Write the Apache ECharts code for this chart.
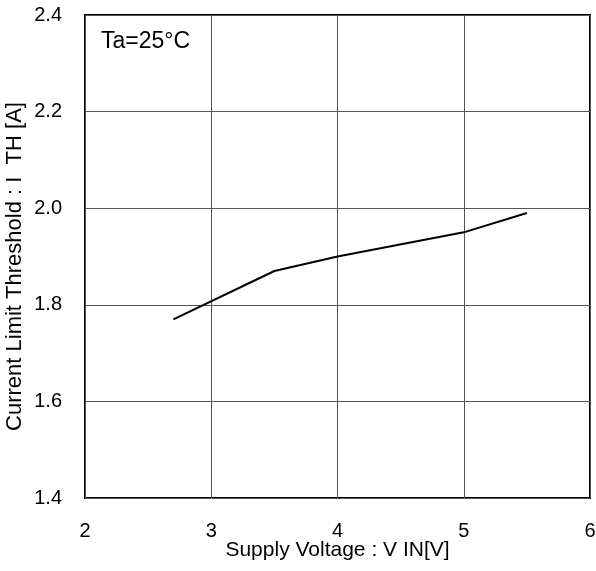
<!DOCTYPE html>
<html>
<head>
<meta charset="utf-8">
<script src="https://cdn.jsdelivr.net/npm/echarts@6/dist/echarts.min.js"></script>
<style>
  html, body { margin: 0; padding: 0; background: #fff; }
  #chart { width: 596px; height: 571px; }
</style>
</head>
<body>
<div id="chart"></div>
<script>
// supply voltage (V) and current limit threshold (A)
const vin = [2.7, 3.5, 4.0, 5.0, 5.5]
const ith = [1.77, 1.87, 1.90, 1.95, 1.99]

const xTicks = { min: 2, max: 6, interval: 1 }
const yTicks = { min: 1.4, max: 2.4, interval: 0.2 }

const font = 'Liberation Sans, Arial, sans-serif'

const chart = echarts.init(document.getElementById('chart'))

chart.setOption({
  animation: false,
  grid: {
    left: 85,
    right: 6,
    top: 15,
    bottom: 73,
    outerBoundsMode: 'none',
    containLabel: false,
    show: true,
    borderColor: '#000',
    borderWidth: 2
  },
  graphic: [
    {
      type: 'text',
      left: 101,
      top: 30,
      style: { text: 'Ta=25°C', font: '23px ' + font, fill: '#000' }
    }
  ],
  xAxis: {
    type: 'value',
    min: xTicks.min,
    max: xTicks.max,
    interval: xTicks.interval,
    name: 'Supply Voltage : V IN[V]',
    nameLocation: 'middle',
    nameGap: 42,
    nameMoveOverlap: false,
    nameTextStyle: { fontFamily: font, fontSize: 21, color: '#000' },
    axisLine: { show: false },
    axisTick: { show: false },
    axisLabel: { fontFamily: font, fontSize: 20, color: '#000', margin: 23 },
    splitLine: { lineStyle: { color: '#555', width: 1 } }
  },
  yAxis: {
    type: 'value',
    min: yTicks.min,
    max: yTicks.max,
    interval: yTicks.interval,
    name: 'Current Limit Threshold : I  TH [A]',
    nameLocation: 'middle',
    nameGap: 59,
    nameMoveOverlap: false,
    nameTextStyle: { fontFamily: font, fontSize: 22, color: '#000', padding: [0, 20, 0, 0] },
    axisLine: { show: false },
    axisTick: { show: false },
    axisLabel: {
      fontFamily: font, fontSize: 20, color: '#000', margin: 23,
      formatter: v => v.toFixed(1)
    },
    splitLine: { lineStyle: { color: '#555', width: 1 } }
  },
  series: [
    {
      type: 'line',
      data: vin.map((v, i) => [v, ith[i]]),
      showSymbol: false,
      lineStyle: { color: '#000', width: 2 }
    }
  ]
})
</script>
</body>
</html>
